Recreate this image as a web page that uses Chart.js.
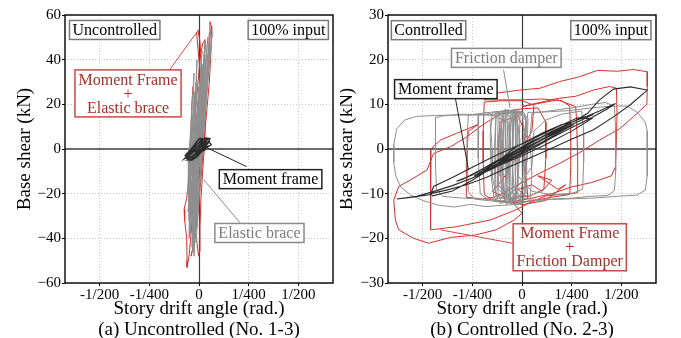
<!DOCTYPE html>
<html>
<head>
<meta charset="utf-8">
<script src="https://cdn.jsdelivr.net/npm/chart.js@4/dist/chart.umd.min.js"></script>
<style>
  html, body { margin: 0; padding: 0; background: #fff; overflow: hidden; }
  #wrap { position: relative; width: 681px; height: 338px; }
  #c1 { position: absolute; left: 0; top: 0; }
  #c2 { position: absolute; left: 340px; top: 0; }
</style>
</head>
<body>
<div id="wrap">
  <canvas id="c1" width="340" height="338"></canvas>
  <canvas id="c2" width="341" height="338"></canvas>
</div>
<script>
// Story drift is stored in units of 1/1000 rad; base shear in kN.
const driftTickValues = [-5, -2.5, 0, 2.5, 5];
const driftTickLabels = ['-1/200', '-1/400', '0', '1/400', '1/200'];

// ---- (a) Uncontrolled, No. 1-3 ----
const uncMomentFrame = [
  [0,0],[0.2,2.5],[0.4,4.2],[0.5,4.8],[0.35,5],[0.1,4],[-0.1,2],[-0.3,0],[-0.5,-2.5],[-0.7,-4],
  [-0.75,-4.5],[-0.55,-3.5],[-0.3,-1.5],[-0.05,1],[0.15,3.5],[0.3,4.8],[0.55,4.6],[0.45,3.2],[0.2,1],
  [0,-1.5],[-0.2,-3.5],[-0.4,-5],[-0.3,-4.8],[-0.1,-3],[0.1,-0.5],[0.25,2],[0.5,3],[0.62,2],[0.55,1.5],
  [0.3,0.2],[0.05,-2],[-0.15,-4],[-0.35,-4.2],[-0.2,-2],[0,0.5],[0.2,3],[0.45,4.5],[0.2,4.2],[-0.05,2.5],
  [-0.25,0.5],[-0.45,-1.5],[-0.6,-3],[-0.45,-3.8],[-0.25,-2.5],[-0.05,-0.5],[0.15,1.5],[0.35,3.8],
  [0.15,3],[-0.15,0.5],[-0.35,-1.5],[-0.2,-0.5],[0,1.5],[0.1,3],[0.25,4.5],[0.05,4.8],[-0.1,3.5],
  [-0.2,1.5],[-0.4,-0.5],[-0.55,-2],[-0.65,-3.5],[-0.5,-4.2],[-0.3,-3.2],[-0.15,-1.5],[0.05,0.5],
  [0.3,2.5],[0.4,3.8],[0.3,4.5],[0,4.6],[-0.15,3],[-0.3,1],[-0.5,-1],[-0.7,-2.8],[-0.6,-4.6],
  [-0.35,-3.6],[-0.1,-1.8],[0.1,0],[0.35,1.8],[0.55,3.8],[0.4,2],[0.15,-0.5],[-0.1,-2.8],[-0.3,-4.6],
  [-0.5,-4.8],[-0.2,-3.8],[0,-2],[0.2,-0.2],[0.4,1],[0.3,-0.5],[0.05,-1.2],[-0.2,-1],[0,0]
];
const uncElasticBrace = [
  [-0.1,3],[0.1,30],[-0.25,-3],[-0.35,-28],[-0.05,3],[0.3,42],[-0.2,-3],[-0.2,-40],
  [0.05,3],[0.45,50],[-0.15,-3],[-0.3,-46],[-0.2,3],[-0.05,20],[-0.4,-3],[-0.5,-22],
  [0.1,3],[0.6,54],[0,-3],[-0.1,-35],[-0.3,3],[-0.2,25],[-0.5,-3],[-0.55,-15],
  [0,3],[0.2,38],[-0.3,-3],[-0.4,-30],[-0.15,3],[0.05,18],[-0.45,-3],[-0.45,-38],
  [0.15,3],[0.5,47],[-0.05,-3],[-0.25,-48],[-0.25,3],[-0.1,28],[-0.35,-3],[-0.6,-20],
  [-0.05,3],[0.25,35],[-0.1,-3],[-0.15,-42],[0.2,3],[0.65,52],[0.1,-3],[-0.05,-25],
  [-0.4,3],[-0.3,12],[-0.55,-3],[-0.5,-32],[-0.1,3],[0.15,44],[-0.2,-3],[-0.3,-36],
  [0.05,3],[0.35,40],[-0.15,-3],[-0.35,-44],[-0.2,3],[0,22],[-0.3,-3],[-0.4,-26],
  [0.1,3],[0.4,32],[-0.05,-3],[-0.2,-30],[-0.3,3],[-0.15,30],[-0.45,-3],[-0.5,-40],
  [0,3],[0.3,48],[-0.1,-3],[-0.25,-32],[-0.15,3],[0.1,26],[-0.35,-3],[-0.45,-18],
  [0.05,3],[0.2,36],[-0.2,-3],[-0.3,-45],[-0.25,3],[-0.05,16],[-0.4,-3],[-0.55,-28],
  [0.1,3],[0.55,45],[0,-3],[-0.1,-22],[-0.1,3],[0.05,24],[-0.25,-3],[-0.35,-34],
  [-0.35,3],[-0.25,34],[-0.5,-3],[-0.45,-24],[0,3],[0.35,30],[-0.15,-3],[-0.2,-38],
  [-0.2,3],[-0.1,40],[-0.3,-3],[-0.35,-12],[0.15,3],[0.3,20],[0.05,-3],[-0.05,-16],
  [-0.05,3],[0,28],[-0.2,-3],[-0.3,-20],[-0.1,3],[0.1,14],[-0.15,-3],[-0.2,-10],[0,0]
];
const uncFrameBrace = [
  [0,0],[0.12,12],[0.2,24],[0.22,30],[0.12,33],[-0.02,26],[-0.12,12],[-0.25,-2],[-0.35,-16],[-0.45,-27],
  [-0.5,-30],[-0.42,-27],[-0.3,-15],[-0.15,0],[0.02,15],[0.15,28],[0.25,38],[0.32,46],[0.3,49],[0.18,47],
  [0.05,40],[-0.05,30],[-0.15,20],[-0.3,5],[-0.45,-10],[-0.62,-22],[-0.75,-27],[-0.72,-32],[-0.62,-40],
  [-0.6,-50],[-0.6,-53],[-0.5,-48],[-0.4,-38],[-0.3,-25],[-0.2,-10],[-0.08,5],[0.02,20],[0.05,35],
  [-0.05,45],[-0.12,52],[-0.05,53],[0.05,48],[0.12,38],[0.2,25],[0.15,12],[0.05,2],[-0.08,-12],
  [-0.15,-25],[-0.2,-35],[-0.1,-42],[-0.02,-48],[0.02,-46],[0.05,-35],[0.1,-22],[0.2,-8],[0.3,5],
  [0.32,18],[0.4,30],[0.47,42],[0.52,52],[0.55,57],[0.62,55],[0.64,50],[0.58,40],[0.52,30],[0.4,18],
  [0.3,8],[0.2,-2],[0.08,-15],[-0.05,-28],[-0.18,-38],[-0.35,-46],[-0.4,-48],[-0.3,-44],[-0.15,-32],
  [-0.02,-20],[0.1,-8],[0.2,5],[0.25,15],[0.18,20],[0.05,12],[-0.05,2],[-0.15,-8],[-0.25,-18],
  [-0.4,-22],[-0.55,-16],[-0.45,-5],[-0.4,10],[-0.35,22],[-0.3,28],[-0.2,22],[-0.1,0],[0,0]
];

// ---- (b) Controlled, No. 2-3 ----
const ctlMomentFrame = [
  [0,0],[1,2],[2,4.2],[2.6,5.5],[2,4],[1,1.5],[0,-0.8],[-1,-3],[-2,-5.2],[-2.4,-6],[-1.5,-3.5],
  [-0.5,-1],[0.5,1.5],[1.5,4],[2.5,6],[3.2,7.2],[3.9,8.5],[4.5,9.8],[4.7,10.2],[4.3,9],[3.5,7],
  [2.5,4.8],[1.5,2.5],[0.5,0],[-0.5,-2.2],[-1.5,-4.5],[-2.5,-6.5],[-3.5,-8.2],[-4.5,-9.6],[-5.3,-10.6],
  [-6.3,-11.2],[-5.5,-10.8],[-4.6,-10.2],[-4.45,-8.4],[-3.5,-6.4],[-2.77,-4.7],[-1.8,-2.5],[-1.1,-1],
  [0,1.2],[1,3.5],[2,5.5],[2.6,6.1],[3.3,8],[3.9,11],[4.6,13.4],[5.45,13.9],[6.3,13.2],[5.45,9.9],
  [4.6,7.2],[3.6,4.3],[2.4,2],[1.3,-0.2],[0.3,-2.2],[-0.8,-4.3],[-1.8,-6.4],[-2.8,-8],[-3.8,-9.2],
  [-4.6,-10],[-4.5,-10.5],[-3.5,-9.4],[-2.5,-7],[-1.5,-4.2],[-1,-2.5],[0.5,1],[1.5,3.2],[2.2,5.5],
  [1.2,2.5],[0,-0.5],[-1,-2],[-0.3,0.5],[0.8,2.8],[1.8,5],[2.8,7],[3.5,6.8],[2.5,4],[1.2,1],[0,-1.5],
  [-1.2,-3.8],[-2,-4.8],[-1,-2.8],[0,-0.3],[1,2.2],[2,4.4],[3,6.5],[3.6,7.8],[3,7],[2,5],[1,2.6],
  [0,0.2],[-1,-2.2],[-2,-4.5],[-3,-6.8],[-3.3,-7.2],[-2.5,-5.8],[-1.5,-3.2],[-0.5,-0.8],[0.5,1.8],
  [1.5,3.6],[2.5,5.8],[2,4.9],[1,2],[0,-0.5],[0,0]
];
const ctlFrictionDamper = [
  [0,0],[0.2,6],[0.1,8.2],[-0.6,8],[-1.2,7.8],[-1.6,6],[-1.5,0],[-1.5,-6],[-1.3,-10.5],[-0.8,-11.2],
  [-0.2,-11],[0.2,-8],[0.1,0],[0.2,7.5],[-0.3,8.4],[-0.9,8],[-1,2],[-1,-5],[-0.9,-10],[-0.4,-11.5],
  [0.1,-10],[0.25,-2],[0.3,7],[-0.5,8.3],[-1.5,7.8],[-2.5,7.6],[-3.5,7.6],[-4.4,7.5],[-5.3,7.3],
  [-5.9,6.5],[-6.3,4.5],[-6.45,1],[-6.45,-3],[-6.35,-6],[-6.1,-8.5],[-5.6,-10.3],[-5,-11.5],
  [-4.2,-12.6],[-3.4,-13],[-2.6,-12.4],[-1.8,-12.9],[-1,-12.6],[-0.2,-12.4],[0.4,-11.5],[0.5,-6],
  [0.4,2],[0.5,8],[1.5,8.6],[2.5,9.2],[3.5,10],[4.2,10.4],[4.65,9.6],[4.7,5],[4.72,0],[4.7,-5],
  [4.65,-9.3],[4.3,-10.4],[3.4,-10.6],[2.5,-11],[1.5,-11.2],[0.6,-11.6],[0,-12],[-0.6,-11.5],
  [-1.2,-9],[-1.2,0],[-1.1,7.5],[-2,7.6],[-3,7.8],[-4,7.4],[-4.35,7],[-4.35,2],[-4.35,-4],[-4.3,-9],
  [-4,-10.6],[-3,-11],[-2,-11.2],[-1,-11.6],[-0.3,-11.8],[0.2,-10],[0.1,-3],[0.2,5],[0.3,8.2],
  [1.2,8.3],[2.4,8.6],[3.5,9.2],[4.5,9.6],[5.3,9.6],[5.8,8.2],[6.2,6],[6.3,4],[6.3,-1],[6.3,-6],
  [6.2,-9.2],[5.8,-10.3],[4.8,-10.6],[3.5,-11],[2.2,-11.2],[1,-11.4],[0,-11],[-0.4,-9],[-0.5,-2],
  [-0.4,6],[-0.3,8.6],[-1.2,8.4],[-2,8],[-2.7,7.6],[-2.75,3],[-2.75,-4],[-2.7,-9.5],[-2.4,-11.2],
  [-1.6,-11.6],[-0.8,-12],[0,-12.4],[0.2,-9],[0.15,0],[0.25,6],[-0.2,8.5],[-0.6,7.5],[-0.7,-2],
  [-0.6,-11],[-0.3,-11.5],[-0.2,-4],[-0.2,5],[-0.4,8.6],[-0.8,7.8],[-0.85,-3],[-0.8,-10.5],
  [-0.5,-12.2],[-0.2,-8],[-0.1,2],[-0.3,8],[-0.7,8.8],[-1.3,8],[-1.4,-1],[-1.35,-9.5],[-1,-11.8],
  [-0.5,-10],[-0.45,0],[-0.5,7],[-0.9,8.3],[-1.1,4],[-1.1,-6],[-0.9,-10.5],[-0.6,-8],[-0.6,1],
  [-0.7,6],[-1.8,8.2],[-2.2,7.5],[-2.2,-2],[-2.1,-10],[-1.7,-11.4],[-1,-11],[-0.3,-9],[0.5,-4],
  [0.6,4],[1.2,6.5],[2,7.8],[3,8.5],[3.1,4],[3.1,-3],[3.05,-9],[2.5,-10],[1.5,-10.2],[0.5,-9.5],
  [-0.2,-6],[-0.3,0],[-0.3,8.3],[-0.35,-4],[-0.3,-12],[-0.5,-9],[-0.45,3],[-0.4,8.8],[-0.6,5],
  [-0.65,-6],[-0.55,-12.4],[-0.7,-10],[-0.75,0],[-0.7,8.4],[-0.9,6],[-0.95,-5],[-0.85,-11.8],
  [-1.05,-9],[-1.05,2],[-1,8.6],[-1.2,7.2],[-1.25,-2],[-1.2,-10.8],[-1.4,-11.5],[-1.55,-6],[-1.6,3],
  [-1.5,8.2],[-0.2,8.8],[-0.25,0],[-0.2,-10.5],[-0.1,-12],[0.05,-6],[0.1,4],[0,8.4],[-0.45,8],
  [-0.5,-1],[-0.45,-11],[-0.65,-11.8],[-0.6,-3],[-0.55,7.8],[-0.85,8.9],[-0.8,-1],[-0.75,-12.5],
  [-0.95,-10.5],[-1,-2],[-0.9,7],[-1.3,8.5],[-1.35,0],[-1.3,-11],[-1.1,-12.2],[-0.35,-11.2],
  [-0.3,-2],[-0.35,7.6],[-0.1,8.6],[-0.15,-3],[0,0]
];
const ctlFrameDamper = [
  [0,0],[0.5,4],[0.6,9.8],[0,10.8],[-1,10.8],[-1.9,10.5],[-1.95,4],[-1.95,-3],[-1.9,-10.2],
  [-1.4,-11.6],[-0.5,-12],[0.5,-11.6],[1.5,-10.8],[2.4,-10.2],[2.45,-4],[2.45,3],[2.4,9.6],[2,10.8],
  [1,11.2],[0,11],[-1,11],[-1.9,11],[-1.3,12.5],[-0.1,13.2],[0.9,13.6],[1.9,15.1],[2.9,16.2],
  [3.8,17.6],[4.8,17.4],[5.6,17.8],[6.3,17.3],[6.3,14],[6.28,10],[5.6,7.2],[4.9,4.5],[3.9,2],
  [2.9,-0.8],[1.9,-3.2],[0.9,-5.4],[0,-7.5],[-0.8,-9.5],[-1.4,-10.8],[-2,-11.2],[-2.8,-10.8],
  [-2.8,-3],[-2.7,4],[-2.2,5.5],[-3.3,3.5],[-4.1,2],[-4.58,0],[-4.6,-6],[-4.6,-12],[-4.6,-18.1],
  [-3.3,-17.4],[-1.6,-15.9],[-0.4,-13.8],[0.4,-12],[1.2,-10.5],[2.8,-9.8],[2.8,-2],[2.75,6],
  [2.7,9.5],[1.8,11],[0,9.5],[1.76,11.3],[2.7,11.8],[3.6,13.2],[4.4,14],[4.75,13.6],[4.78,8],
  [4.75,2],[4.7,-4],[4.5,-6],[3.5,-7.5],[2.5,-8.5],[1.5,-10],[0.5,-11],[-0.5,-11.8],[0,-14.4],
  [-0.4,-15.9],[-1.3,-18.1],[-2.4,-19.3],[-3.6,-19.8],[-4.7,-21.1],[-5.45,-20],[-6.2,-18.1],
  [-6.37,-15.9],[-6.45,-11.4],[-6.2,-8.4],[-5.6,-6.9],[-4.78,-4.7],[-4.45,-1],[-3.6,0.5],
  [-2.77,2.75],[-2.1,5],[-1.6,6.5],[-0.8,8.5],[0,9],[0.8,9.2],[1.2,6],[1.2,-2],[1.1,-9],[0.4,-10.5],
  [-0.6,-10.8],[-1.2,-8],[-1.2,0],[-1.1,6],[-0.2,7.5],[0.3,2],[0.2,-6],[0.3,-11],[-0.2,-9],
  [0.5,-8],[1,-9.5],[1.5,-7],[0.8,-6],[1.8,-9],[2.2,-8],[1.2,-11.5],[0,-12.5],[-0.8,-11],
  [-1.5,-9.5],[-1,-7],[0,0]
];

const DRIFT_LIMIT = 6.74;
const SERIF = "'Liberation Serif', 'Times New Roman', serif";
const tickFont = { family: SERIF, size: 15 };
const titleFont = { family: SERIF, size: 19, lineHeight: 1.1 };
const boxFont = "16px " + SERIF;

const RED = '#d4312d', RED_TEXT = '#a8302c', RED_EDGE = '#cc4a45';
const GRAY = '#8e8e8e', GRAY_TEXT = '#7c7c7c', GRAY_EDGE = '#8a8a8a';
const DARK = '#2c2c2c';

const toPoints = arr => arr.map(([x, y]) => ({ x, y }));
const minusLabel = v => (v < 0 ? '\u2212' + Math.abs(v) : String(v));

function lineSet(label, arr, color, width) {
  return { label, data: toPoints(arr), showLine: true, borderColor: color, borderWidth: width,
           pointRadius: 0, tension: 0, fill: false };
}

// Zero axes under the loops, text boxes with leader lines and the panel frame on top.
function decorPlugin(notes) {
  return {
    id: 'decor',
    beforeDatasetsDraw(chart) {
      const { ctx, chartArea: a, scales: { x, y } } = chart;
      ctx.save();
      const y0 = Math.round(y.getPixelForValue(0));
      ctx.strokeStyle = '#6c6c6c'; ctx.lineWidth = 2;
      ctx.beginPath(); ctx.moveTo(a.left, y0); ctx.lineTo(a.right, y0); ctx.stroke();
      const x0 = Math.round(x.getPixelForValue(0)) + 0.5;
      ctx.strokeStyle = '#3c3c3c'; ctx.lineWidth = 1.2;
      ctx.beginPath(); ctx.moveTo(x0, a.top); ctx.lineTo(x0, a.bottom); ctx.stroke();
      ctx.restore();
    },
    afterDatasetsDraw(chart) {
      const { ctx, chartArea: a, scales: { x, y } } = chart;
      ctx.save();
      ctx.font = boxFont;
      notes.forEach(n => {
        if (n.from) {
          ctx.strokeStyle = n.edge; ctx.lineWidth = 1;
          ctx.beginPath();
          ctx.moveTo(x.getPixelForValue(n.from[0]), y.getPixelForValue(n.from[1]));
          ctx.lineTo(x.getPixelForValue(n.to[0]), y.getPixelForValue(n.to[1]));
          ctx.stroke();
        }
      });
      notes.forEach(n => {
        const cx = x.getPixelForValue(n.at[0]), cy = y.getPixelForValue(n.at[1]);
        const w = Math.max(...n.lines.map(t => ctx.measureText(t).width)) + 2 * n.padX;
        const gap = 14;
        const h = n.lines.length === 1 ? 19 : n.lines.length * gap + 5;
        ctx.fillStyle = '#fff';
        ctx.fillRect(cx - w / 2, cy - h / 2, w, h);
        ctx.strokeStyle = n.edge; ctx.lineWidth = 1.5;
        ctx.strokeRect(cx - w / 2, cy - h / 2, w, h);
        ctx.fillStyle = n.color; ctx.textAlign = 'center'; ctx.textBaseline = 'middle';
        n.lines.forEach((t, i) => {
          ctx.fillText(t, cx, cy + (i - (n.lines.length - 1) / 2) * gap + 1);
        });
      });
      ctx.strokeStyle = '#111'; ctx.lineWidth = 1.5;
      ctx.strokeRect(a.left, a.top, a.right - a.left, a.bottom - a.top);
      ctx.restore();
    }
  };
}

function makeChart(canvasId, cfg) {
  return new Chart(document.getElementById(canvasId), {
    type: 'scatter',
    data: { datasets: cfg.datasets },
    options: {
      responsive: false, animation: false, events: [],
      layout: { padding: { top: 15, right: cfg.padRight, bottom: 0, left: 0 } },
      plugins: { legend: { display: false }, tooltip: { enabled: false } },
      scales: {
        x: {
          type: 'linear', min: -DRIFT_LIMIT, max: DRIFT_LIMIT,
          afterBuildTicks: s => { s.ticks = driftTickValues.map(v => ({ value: v })); },
          afterFit: s => { s.height = 55; },
          ticks: { color: '#000', font: tickFont, padding: 0, maxRotation: 0, autoSkip: false,
                   callback: (v, i) => driftTickLabels[i] },
          grid: { color: c => (c.tick && c.tick.value === 0 ? 'rgba(0,0,0,0)' : '#c6c6c6'),
                  lineWidth: 1, tickLength: 3, tickColor: '#000', tickWidth: 1 },
          border: { display: false, dash: [1, 2] },
          title: { display: true, text: ['Story drift angle (rad.)', cfg.caption], color: '#000',
                   font: titleFont, padding: { top: 0, bottom: -2 } }
        },
        y: {
          type: 'linear', min: -cfg.yMax, max: cfg.yMax,
          afterFit: s => { s.width = cfg.yWidth; },
          ticks: { color: '#000', font: tickFont, padding: 1, stepSize: cfg.yStep, callback: minusLabel },
          grid: { color: c => (c.tick && c.tick.value === 0 ? 'rgba(0,0,0,0)' : '#c6c6c6'),
                  lineWidth: 1, tickLength: 3, tickColor: '#000', tickWidth: 1 },
          border: { display: false, dash: [1, 2] },
          title: { display: true, text: 'Base shear (kN)', color: '#000', font: titleFont,
                   padding: { top: cfg.yTitlePad, bottom: 0 } }
        }
      }
    },
    plugins: [decorPlugin(cfg.notes)]
  });
}

makeChart('c1', {
  caption: '(a) Uncontrolled (No. 1-3)',
  yMax: 60, yStep: 20, yWidth: 65, padRight: 7, yTitlePad: 15,
  datasets: [
    lineSet('Moment frame', uncMomentFrame, DARK, 1.3),
    lineSet('Elastic brace', uncElasticBrace, GRAY, 1),
    lineSet('Moment Frame + Elastic brace', uncFrameBrace, RED, 1)
  ],
  notes: [
    { lines: ['Uncontrolled'], at: [-4.24, 53.3], padX: 3, color: '#000', edge: '#7a7a7a' },
    { lines: ['100% input'], at: [4.49, 53.3], padX: 3, color: '#000', edge: '#7a7a7a' },
    { lines: ['Moment Frame', '+', 'Elastic brace'], at: [-3.57, 24.9], padX: 3.5,
      color: RED_TEXT, edge: RED_EDGE, from: [-1.46, 35.7], to: [0, 53.6] },
    { lines: ['Moment frame'], at: [3.6, -13.5], padX: 3.5, color: '#000', edge: '#222',
      from: [2.4, -7.9], to: [0.3, 1.0] },
    { lines: ['Elastic brace'], at: [3.04, -37.6], padX: 3.5, color: GRAY_TEXT, edge: GRAY_EDGE,
      from: [2.06, -33], to: [0.25, -13.9] }
  ]
});

makeChart('c2', {
  caption: '(b) Controlled (No. 2-3)',
  yMax: 30, yStep: 10, yWidth: 48, padRight: 25, yTitlePad: -3,
  datasets: [
    lineSet('Moment frame', ctlMomentFrame, DARK, 1.1),
    lineSet('Friction damper', ctlFrictionDamper, GRAY, 1),
    lineSet('Moment Frame + Friction Damper', ctlFrameDamper, RED, 1)
  ],
  notes: [
    { lines: ['Controlled'], at: [-4.7, 26.6], padX: 3, color: '#000', edge: '#7a7a7a' },
    { lines: ['100% input'], at: [4.47, 26.6], padX: 3, color: '#000', edge: '#7a7a7a' },
    { lines: ['Friction damper'], at: [-0.79, 20.4], padX: 3.5, color: GRAY_TEXT, edge: GRAY_EDGE,
      from: [-0.93, 17.8], to: [-0.6, 9.2] },
    { lines: ['Moment frame'], at: [-3.83, 13.4], padX: 3.5, color: '#000', edge: '#222',
      from: [-3.35, 11.35], to: [-2.69, -4.7] },
    { lines: ['Moment Frame', '+', 'Friction Damper'], at: [2.4, -22], padX: 3.5,
      color: RED_TEXT, edge: RED_EDGE, from: [-0.47, -21.1], to: [-4.1, -18.1] }
  ]
});
</script>
</body>
</html>
